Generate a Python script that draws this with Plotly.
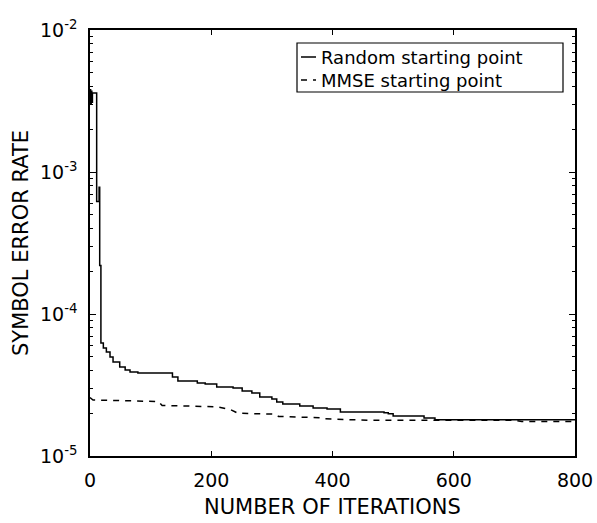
import plotly.graph_objects as go

# ---- data ----
rand_iter = [0, 1, 2, 3, 4, 11, 15, 16, 18, 22, 27, 33, 38, 49, 58, 66, 79, 136, 145,
             177, 190, 209, 236, 251, 267, 280, 300, 308, 318, 346, 368, 391, 413,
             485, 492, 500, 551, 569, 800]
rand_ser = [3.8e-3, 3.0e-3, 3.7e-3, 3.1e-3, 3.6e-3, 6.2e-4, 7.8e-4, 2.2e-4, 6.25e-5,
            5.77e-5, 5.4e-5, 4.97e-5, 4.59e-5, 4.23e-5, 4.03e-5, 3.9e-5, 3.84e-5,
            3.6e-5, 3.37e-5, 3.27e-5, 3.21e-5, 3.06e-5, 3.01e-5, 2.87e-5, 2.78e-5,
            2.6e-5, 2.52e-5, 2.4e-5, 2.32e-5, 2.25e-5, 2.18e-5, 2.14e-5, 2.04e-5,
            2.02e-5, 1.98e-5, 1.91e-5, 1.85e-5, 1.80e-5, 1.80e-5]

mmse_iter = [0, 5, 113, 119, 210, 232, 244, 305, 311, 379, 385, 452, 458, 700, 712, 800]
mmse_ser = [2.58e-5, 2.48e-5, 2.42e-5, 2.27e-5, 2.22e-5, 2.12e-5, 2.0e-5, 1.97e-5,
            1.9e-5, 1.86e-5, 1.83e-5, 1.80e-5, 1.785e-5, 1.785e-5, 1.75e-5, 1.75e-5]

series_names = ["Random starting point", "MMSE starting point"]
x_ticks = [0, 200, 400, 600, 800]
y_tickvals = [1e-5, 1e-4, 1e-3, 1e-2]
y_ticktext = ["10<sup>-5</sup>", "10<sup>-4</sup>", "10<sup>-3</sup>", "10<sup>-2</sup>"]
x_title = "NUMBER OF ITERATIONS"
y_title = "SYMBOL ERROR RATE"

FONT = "DejaVu Sans"

fig = go.Figure()
fig.add_trace(go.Scatter(x=rand_iter, y=rand_ser, mode="lines", line_shape="hv",
                         name=series_names[0], line=dict(color="black", width=1.5)))
fig.add_trace(go.Scatter(x=mmse_iter, y=mmse_ser, mode="lines",
                         name=series_names[1],
                         line=dict(color="black", width=1.5, dash="6px,6px")))

minor_vals = [m * 10 ** e for e in range(-5, -2) for m in range(2, 10)]

fig.update_layout(
    width=597, height=523,
    margin=dict(l=90, r=22, t=30, b=67, autoexpand=False),
    paper_bgcolor="white", plot_bgcolor="white",
    showlegend=False,
    font=dict(family=FONT, color="black", size=19),
    xaxis=dict(range=[0, 800], tickvals=x_ticks, ticks="inside", ticklen=5,
               tickwidth=1, tickcolor="black", showline=True, linecolor="black",
               linewidth=1.5, mirror="ticks", showgrid=False, zeroline=False,
               tickfont=dict(size=19), ticklabelstandoff=6, automargin=False),
    yaxis=dict(type="log", range=[-5, -2], tickvals=y_tickvals, ticktext=y_ticktext,
               ticks="inside", ticklen=6, tickwidth=1, tickcolor="black",
               showline=True, linecolor="black", linewidth=1.5, mirror="ticks",
               showgrid=False, zeroline=False, tickfont=dict(size=19),
               ticklabelstandoff=7, automargin=False,
               minor=dict(tickvals=minor_vals, ticks="inside", ticklen=3,
                          tickcolor="black", showgrid=False)),
)

def px2x(px):
    return (px - 90) / 485.0

def py2y(py):
    return (456 - py) / 426.0

# axis titles
fig.add_annotation(xref="paper", yref="paper", x=px2x(332), y=py2y(507),
                   xanchor="center", yanchor="middle", text=x_title, showarrow=False,
                   font=dict(size=21, family=FONT, color="black"))
fig.add_annotation(xref="paper", yref="paper", x=px2x(21), y=py2y(243),
                   xanchor="center", yanchor="middle", text=y_title, showarrow=False,
                   textangle=-90, font=dict(size=21, family=FONT, color="black"))

# ---- legend box drawn in plot-area coordinates ----
fig.add_shape(type="rect", xref="paper", yref="paper",
              x0=px2x(297), x1=px2x(563), y0=py2y(92), y1=py2y(43),
              line=dict(color="black", width=1.2), fillcolor="white", layer="above")
rows = [(57, "solid"), (80, "6px,6px")]
for py, dash in rows:
    fig.add_shape(type="line", xref="paper", yref="paper",
                  x0=px2x(301), x1=px2x(316), y0=py2y(py), y1=py2y(py),
                  line=dict(color="black", width=1.5, dash=dash), layer="above")
fig.add_annotation(xref="paper", yref="paper", x=px2x(319), y=py2y(68.5),
                   xanchor="left", yanchor="middle", align="left",
                   text="<br>".join(series_names), showarrow=False,
                   font=dict(size=18, family=FONT, color="black"))

fig.write_html("out.html", config={"displayModeBar": False},
               post_script="document.body.style.margin='0';document.body.style.padding='0';")
